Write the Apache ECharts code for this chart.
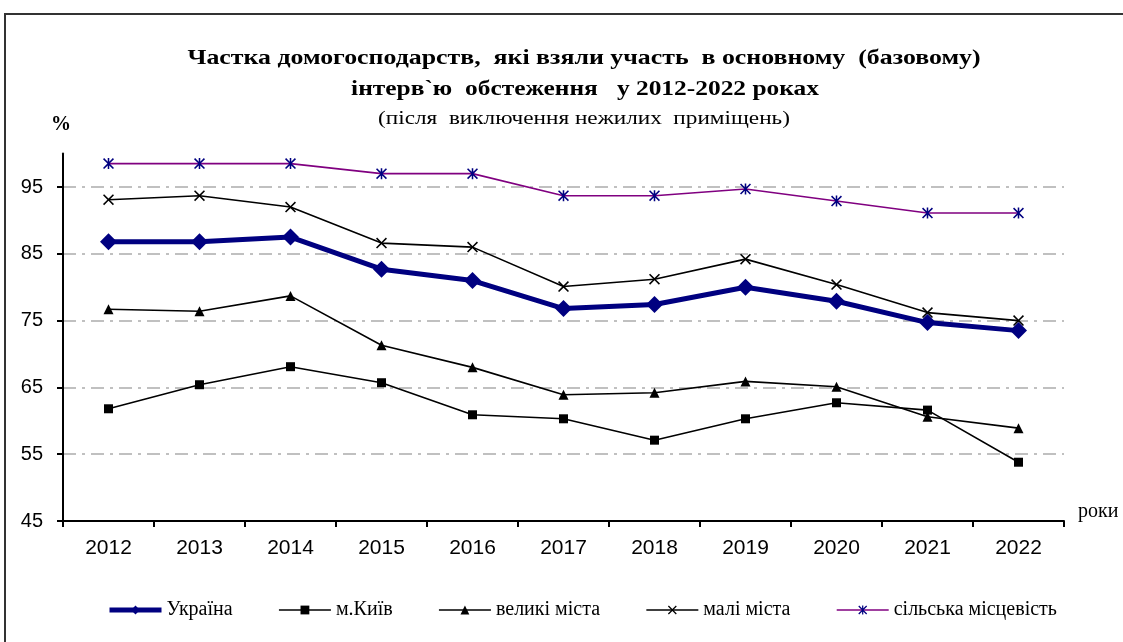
<!DOCTYPE html>
<html><head><meta charset="utf-8">
<script src="https://cdn.jsdelivr.net/npm/echarts@6/dist/echarts.min.js"></script>
<style>html,body{margin:0;padding:0;background:#fff}#c{width:1123px;height:642px}</style>
</head><body><div id="c"></div>
<script>
const years = ['2012','2013','2014','2015','2016','2017','2018','2019','2020','2021','2022'];
const yTicks = [45,55,65,75,85,95];
const ukraine = [86.8,86.8,87.5,82.7,81.0,76.8,77.4,80.0,77.9,74.7,73.5];
const kyiv    = [61.8,65.4,68.1,65.7,60.9,60.3,57.1,60.3,62.7,61.6,53.8];
const bigCities = [76.7,76.4,78.7,71.3,68.0,63.9,64.2,65.9,65.1,60.6,58.9];
const smallCities = [93.1,93.7,92.0,86.6,86.0,80.1,81.2,84.2,80.4,76.2,75.0];
const rural = [98.5,98.5,98.5,97.0,97.0,93.7,93.7,94.7,92.9,91.1,91.1];
const names = ['Україна','м.Київ','великі міста','малі міста','сільська місцевість'];
const titleLines = ['Частка домогосподарств,  які взяли участь  в основному  (базовому)', 'інтерв`ю  обстеження   у 2012-2022 роках'];
const subTitle = '(після  виключення нежилих  приміщень)';

const SERIF = '"Liberation Serif","DejaVu Serif",serif';
const SANS = '"Liberation Sans",Arial,sans-serif';
const xPath = 'path://M0,1 L1,0 L5,4 L9,0 L10,1 L6,5 L10,9 L9,10 L5,6 L1,10 L0,9 L4,5 Z';
const starPath = 'path://M0,1 L1,0 L5,4 L9,0 L10,1 L6,5 L10,9 L9,10 L5,6 L1,10 L0,9 L4,5 Z M4.3,0 L5.7,0 L5.7,10 L4.3,10 Z';
const legendLineW = [5, 1.6, 1.6, 1.6, 1.6];

const chart = echarts.init(document.getElementById('c'), null, {renderer:'canvas'});
chart.setOption({
  animation:false,
  backgroundColor:'#fff',
  graphic:[
    {type:'rect', shape:{x:5,y:14,width:1130,height:650}, style:{fill:'none', stroke:'#333', lineWidth:2}, z:-10},
    {type:'text', x:584, y:58, scaleX:1.175, style:{text:titleLines[0], textAlign:'center', textVerticalAlign:'middle', fill:'#000', font:'bold 22px ' + SERIF}},
    {type:'text', x:585, y:89, scaleX:1.155, style:{text:titleLines[1], textAlign:'center', textVerticalAlign:'middle', fill:'#000', font:'bold 22px ' + SERIF}},
    {type:'text', x:584, y:119, scaleX:1.29, style:{text:subTitle, textAlign:'center', textVerticalAlign:'middle', fill:'#000', font:'18px ' + SERIF}},
    {type:'text', x:61, y:125, style:{text:'%', textAlign:'center', textVerticalAlign:'middle', fill:'#000', font:'bold 20px ' + SERIF}},
    {type:'text', x:1078, y:512, style:{text:'роки', textAlign:'left', textVerticalAlign:'middle', fill:'#000', font:'20px ' + SERIF}}
  ],
  legend:{
    data:names.map((n,i)=>({name:n, lineStyle:{width:legendLineW[i]}})),
    left:102, top:595, itemWidth:52, itemHeight:11, itemGap:45.5,
    textStyle:{fontFamily:SERIF, fontSize:20, color:'#000'}
  },
  grid:{left:63, right:59, top:153.6, bottom:121, containLabel:false},
  xAxis:{
    type:'category', data:years, boundaryGap:true,
    axisLine:{lineStyle:{color:'#000', width:2}},
    axisTick:{show:true, length:6, inside:false, lineStyle:{color:'#000', width:2}},
    axisLabel:{fontFamily:SANS, fontSize:21, color:'#000', margin:17}
  },
  yAxis:{
    type:'value', min:45, max:100,
    axisLine:{show:true, lineStyle:{color:'#000', width:2}},
    axisTick:{show:true, length:6, customValues:yTicks, lineStyle:{color:'#000', width:2}},
    axisLabel:{fontFamily:SANS, fontSize:20, color:'#000', margin:20, customValues:yTicks},
    splitLine:{show:true, lineStyle:{color:'#c0c0c0', width:2, type:[13,6,3,6]}}
  },
  series:[
    {name:names[0], type:'line', data:ukraine, symbol:'diamond', symbolSize:17, z:3,
      lineStyle:{color:'#000080', width:5}, itemStyle:{color:'#000080'}},
    {name:names[1], type:'line', data:kyiv, symbol:'rect', symbolSize:9, z:2,
      lineStyle:{color:'#000', width:1.6}, itemStyle:{color:'#000'}},
    {name:names[2], type:'line', data:bigCities, symbol:'triangle', symbolSize:10, z:2,
      lineStyle:{color:'#000', width:1.6}, itemStyle:{color:'#000'}},
    {name:names[3], type:'line', data:smallCities, symbol:xPath, symbolSize:11, z:2,
      lineStyle:{color:'#000', width:1.6}, itemStyle:{color:'#000'}},
    {name:names[4], type:'line', data:rural, symbol:starPath, symbolSize:11, z:2,
      lineStyle:{color:'#800080', width:1.6}, itemStyle:{color:'#000080'}}
  ]
});
</script></body></html>
